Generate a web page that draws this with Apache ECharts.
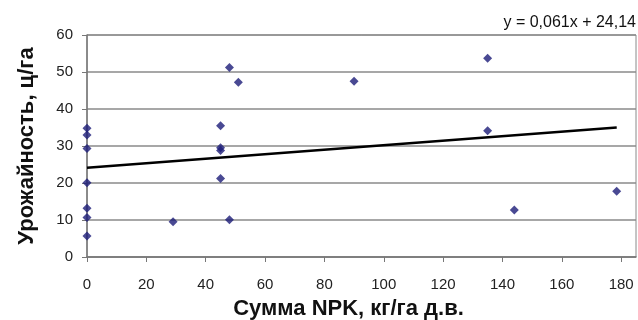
<!DOCTYPE html>
<html>
<head>
<meta charset="utf-8">
<script src="https://cdn.jsdelivr.net/npm/echarts@6/dist/echarts.min.js"></script>
<style>
  html, body { margin: 0; padding: 0; background: #fff; }
  #chart { width: 638px; height: 320px; }
</style>
</head>
<body>
<div id="chart"></div>
<script>
// Fertilizer rate (sum of NPK, kg/ha a.i.) vs. yield (c/ha)
const npk = [0, 0, 0, 0, 0, 0, 0, 29, 45, 45, 45, 45, 48, 48, 51, 90, 135, 135, 144, 178.5];
const yieldVals = [34.8, 33.0, 29.3, 20.1, 13.2, 10.7, 5.7, 9.5, 35.5, 29.5, 28.8, 21.2, 51.2, 10.1, 47.2, 47.5, 53.7, 34.1, 12.7, 17.8];

// Linear trend stated on the chart: y = 0,061x + 24,14
const trendSlope = 0.061;
const trendIntercept = 24.14;
const trendLabel = 'y = 0,061x + 24,14';

const xTicks = [0, 20, 40, 60, 80, 100, 120, 140, 160, 180];
const yTicks = [0, 10, 20, 30, 40, 50, 60];

const xMin = Math.min(...npk), xMaxData = Math.max(...npk);
const trendPoints = [
  [xMin, trendSlope * xMin + trendIntercept],
  [xMaxData, trendSlope * xMaxData + trendIntercept]
];

const chart = echarts.init(document.getElementById('chart'), null, { renderer: 'canvas' });
const font = '"Liberation Sans", Arial, sans-serif';

chart.setOption({
  animation: false,
  backgroundColor: '#fff',
  grid: {
    left: 87, right: 2, top: 35, bottom: 63,
    containLabel: false,
    outerBoundsMode: 'none',
    show: true, borderColor: '#8a8a8a', borderWidth: 1, backgroundColor: 'transparent'
  },
  xAxis: {
    type: 'value',
    min: 0, max: 185,
    name: 'Сумма NPK, кг/га д.в.',
    nameLocation: 'middle',
    nameGap: 41,
    nameTextStyle: { fontFamily: font, fontWeight: 'bold', fontSize: 22, color: '#111', padding: [0, 26, 0, 0] },
    axisLine: { show: true, lineStyle: { color: '#777', width: 1.5 } },
    axisTick: { show: true, inside: false, length: 5, lineStyle: { color: '#777' }, customValues: xTicks },
    axisLabel: { fontFamily: font, fontSize: 15, color: '#222', margin: 20, customValues: xTicks },
    splitLine: { show: false }
  },
  yAxis: {
    type: 'value',
    min: 0, max: 60, interval: 10,
    name: 'Урожайность, ц/га',
    nameLocation: 'middle',
    nameGap: 49,
    nameTextStyle: { fontFamily: font, fontWeight: 'bold', fontSize: 22, color: '#111' },
    axisLine: { show: true, lineStyle: { color: '#777', width: 1.5 } },
    axisTick: { show: true, inside: false, length: 5, lineStyle: { color: '#777' }, customValues: yTicks },
    axisLabel: { fontFamily: font, fontSize: 15, color: '#222', margin: 14, customValues: yTicks },
    splitLine: { show: true, lineStyle: { color: '#8a8a8a', width: 1.5 } }
  },
  series: [
    {
      type: 'line',
      data: trendPoints,
      showSymbol: false,
      lineStyle: { color: '#000', width: 2.5 },
      z: 3,
      silent: true
    },
    {
      type: 'scatter',
      data: npk.map((x, i) => [x, yieldVals[i]]),
      symbol: 'diamond',
      symbolSize: 9,
      itemStyle: { color: '#1c1c78' },
      z: 4
    }
  ],
  graphic: [
    {
      type: 'text',
      right: 2,
      top: 15,
      style: { text: trendLabel, fontFamily: font, fontSize: 16, fill: '#111' }
    }
  ]
});
</script>
</body>
</html>
